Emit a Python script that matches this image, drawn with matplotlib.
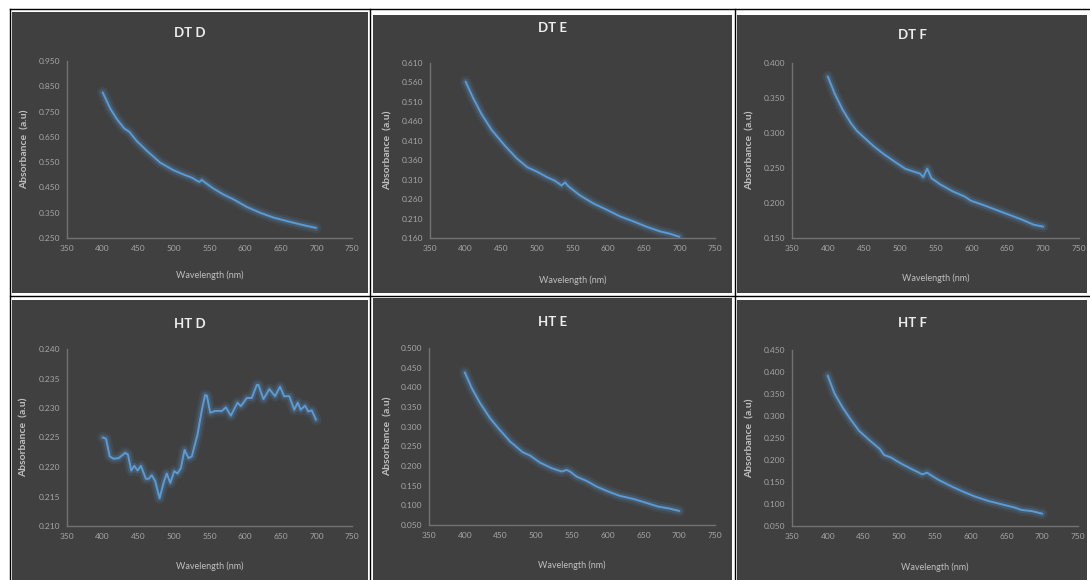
import numpy as np
import matplotlib
matplotlib.use("Agg")
import matplotlib.pyplot as plt
import matplotlib.patheffects as pe
from matplotlib.patches import Rectangle
from matplotlib.lines import Line2D

# ---- data (wavelength in nm, absorbance in a.u) ----
dtd_wl = [400, 410.7, 420, 430.4, 437.4, 448, 462, 480.8, 499.5, 513.6, 525, 533.6, 536, 539, 542.5,
          555.6, 569.6, 583.6, 602.3, 621, 639.7, 658.4, 677, 699.5]
dtd_abs = [0.826, 0.762, 0.720, 0.683, 0.670, 0.633, 0.595, 0.548, 0.518, 0.501, 0.489, 0.4745, 0.472, 0.480, 0.472,
           0.4455, 0.422, 0.403, 0.373, 0.350, 0.331, 0.317, 0.304, 0.290]

dte_wl = [400, 410.8, 422.5, 436.5, 455.3, 471.6, 486.6, 499.7, 513.7, 525.4, 534.8, 539.5, 544.2,
          560.5, 579.2, 598, 616.7, 635.4, 654, 672.8, 686.8, 700]
dte_abs = [0.562, 0.519, 0.478, 0.438, 0.397, 0.365, 0.342, 0.331, 0.317, 0.307, 0.295, 0.303, 0.293,
           0.2695, 0.249, 0.2327, 0.2156, 0.2028, 0.189, 0.177, 0.171, 0.163]

dtf_wl = [400, 409.2, 420.7, 432.2, 440.4, 450.5, 464.3, 478, 494, 507.9, 519.2, 528.4, 533, 538.4, 544.4,
          555.9, 574.2, 590.3, 599.5, 615.6, 634, 652.4, 670.8, 686.8, 700]
dtf_abs = [0.3805, 0.357, 0.333, 0.314, 0.303, 0.2935, 0.2807, 0.2698, 0.2584, 0.2489, 0.245, 0.242, 0.237, 0.249, 0.2355,
           0.227, 0.2165, 0.2094, 0.2032, 0.1975, 0.1904, 0.1833, 0.1761, 0.169, 0.1662]

htd_wl = [400, 404.7, 410, 415.4, 422.4, 431.8, 435.5, 440.2, 444.4, 449, 453.7, 460.7, 464.5, 469, 473.8,
          479.9, 485.5, 490, 494.9, 500.5, 505, 509.8, 515, 520.6, 525.2, 533.2, 539.3, 543.9, 546.3, 551,
          558, 567.3, 573, 580, 589.3, 594, 602.3, 609.3, 616.4, 618.7, 625.7, 634, 642, 649, 654.7, 662,
          669, 673.8, 678, 684, 688.8, 693.5, 699.5]
htd_abs = [0.2250, 0.2248, 0.2218, 0.2214, 0.2215, 0.2224, 0.2221, 0.2194, 0.2202, 0.2194, 0.2202, 0.2180, 0.2180, 0.2186, 0.2176,
           0.2147, 0.2173, 0.2189, 0.2173, 0.2193, 0.2189, 0.2198, 0.2229, 0.2215, 0.2218, 0.2255, 0.2297, 0.2322, 0.2321, 0.2292,
           0.2295, 0.2295, 0.2301, 0.2287, 0.2309, 0.2303, 0.2317, 0.2317, 0.2339, 0.2339, 0.2315, 0.2332, 0.2320, 0.2336, 0.2320, 0.2320,
           0.2297, 0.2309, 0.2297, 0.2304, 0.2294, 0.2296, 0.2280]

hte_wl = [400, 409.8, 421.4, 435.3, 447, 463.4, 481, 491.3, 505.2, 521.6, 535.5, 542.5, 547.2, 556.5, 570.5,
          584.5, 600.8, 617.1, 635.8, 654.4, 670.7, 687, 700]
hte_abs = [0.438, 0.398, 0.360, 0.3217, 0.296, 0.2623, 0.235, 0.2266, 0.2088, 0.1944, 0.186, 0.190, 0.186, 0.173, 0.162,
           0.1477, 0.135, 0.124, 0.1163, 0.106, 0.0967, 0.0916, 0.0857]

htf_wl = [400, 409.3, 420.9, 432.5, 444, 458, 472.8, 478.8, 488.1, 502, 518.2, 532.2, 539.1, 543.7, 555.3,
          573.9, 592.4, 606.3, 624.9, 643.4, 662, 671.2, 685, 700]
htf_abs = [0.3917, 0.3515, 0.319, 0.291, 0.266, 0.2455, 0.225, 0.2114, 0.206, 0.1924, 0.1788, 0.1674, 0.1712, 0.166, 0.1545,
           0.1394, 0.1258, 0.1167, 0.1068, 0.0992, 0.0917, 0.0864, 0.084, 0.078]

titles = ["DT D", "DT E", "DT F", "HT D", "HT E", "HT F"]
wavelengths = [dtd_wl, dte_wl, dtf_wl, htd_wl, hte_wl, htf_wl]
absorbances = [dtd_abs, dte_abs, dtf_abs, htd_abs, hte_abs, htf_abs]
y_limits = [(0.250, 0.950), (0.160, 0.610), (0.150, 0.400), (0.210, 0.240), (0.050, 0.500), (0.050, 0.450)]
y_steps = [0.1, 0.05, 0.05, 0.005, 0.05, 0.05]
x_ticks = [350, 400, 450, 500, 550, 600, 650, 700, 750]

# ---- layout (pixels, top-left origin) ----
W, H = 1090, 580
panels = [(12, 12, 368, 293), (373, 15, 732, 293), (737, 15, 1087, 293),
          (12, 300, 368, 580), (373, 298, 732, 580), (737, 300, 1087, 580)]
plots = [(67, 61, 352, 238), (430, 63, 715, 238), (792, 63, 1079, 238),
         (67, 349, 352, 526), (429, 348, 715, 525), (792, 350, 1078, 526)]
title_y = [33, 28, 35, 324, 322, 323]
xlabel_y = [270, 275, 273, 561, 560, 562]
ylabel_x = [30, 393, 755, 29, 393, 755]

fonts = ['Lato', 'DejaVu Sans']
bg = '#404040'
blue = '#5B9BD5'

fig = plt.figure(figsize=(W / 100, H / 100), dpi=100)
fig.patch.set_facecolor('white')

for i in range(6):
    x0, y0, x1, y1 = panels[i]
    fig.patches.append(Rectangle((x0 / W, 1 - y1 / H), (x1 - x0) / W, (y1 - y0) / H,
                                 transform=fig.transFigure, facecolor=bg, edgecolor='none', zorder=-5))

    px0, py0, px1, py1 = plots[i]
    ax = fig.add_axes([px0 / W, 1 - py1 / H, (px1 - px0) / W, (py1 - py0) / H])
    ax.set_facecolor(bg)

    # blue line with a soft glow like the Excel effect
    ax.plot(wavelengths[i], absorbances[i], color=blue, lw=1.4, solid_capstyle='round',
            solid_joinstyle='round',
            path_effects=[pe.Stroke(linewidth=8, foreground=blue, alpha=0.10),
                          pe.Stroke(linewidth=4.5, foreground=blue, alpha=0.22),
                          pe.Normal()])

    lo, hi = y_limits[i]
    ax.set_xlim(350, 750)
    ax.set_ylim(lo, hi)
    ax.set_xticks(x_ticks)
    ax.set_yticks(np.arange(lo, hi + y_steps[i] / 2, y_steps[i]))
    ax.yaxis.set_major_formatter(matplotlib.ticker.FormatStrFormatter('%.3f'))
    ax.tick_params(length=0, labelsize=6, colors='#A6A6A6', pad=5)
    for lab in ax.get_xticklabels() + ax.get_yticklabels():
        lab.set_family(fonts)

    for s in ['top', 'right']:
        ax.spines[s].set_visible(False)
    for s in ['left', 'bottom']:
        ax.spines[s].set_color('#727272')
        ax.spines[s].set_linewidth(1)

    ax.set_xlabel('Wavelength (nm)', fontsize=6.5, color='#BFBFBF', family=fonts)
    ax.xaxis.set_label_coords(0.5, (py1 - xlabel_y[i]) / (py1 - py0))
    ax.set_ylabel('Absorbance  (a.u)', fontsize=7.5, color='#BFBFBF', fontweight='bold', family=fonts)
    ax.yaxis.set_label_coords((ylabel_x[i] - px0) / (px1 - px0), 0.5)

    fig.text((x0 + x1) / 2 / W, 1 - title_y[i] / H, titles[i], ha='center', va='center',
             fontsize=9.5, fontweight='bold', color='#EDEDED', family=fonts)

# black frame lines between the panels
for (xa, ya, xb, yb) in [(10, 9, 1090, 9), (10, 296, 1090, 296),
                         (10, 9, 10, 580), (370, 9, 370, 580), (735, 9, 735, 580)]:
    fig.lines.append(Line2D([xa / W, xb / W], [1 - ya / H, 1 - yb / H], transform=fig.transFigure,
                            color='black', lw=1))

fig.savefig('out.png', dpi=100)
